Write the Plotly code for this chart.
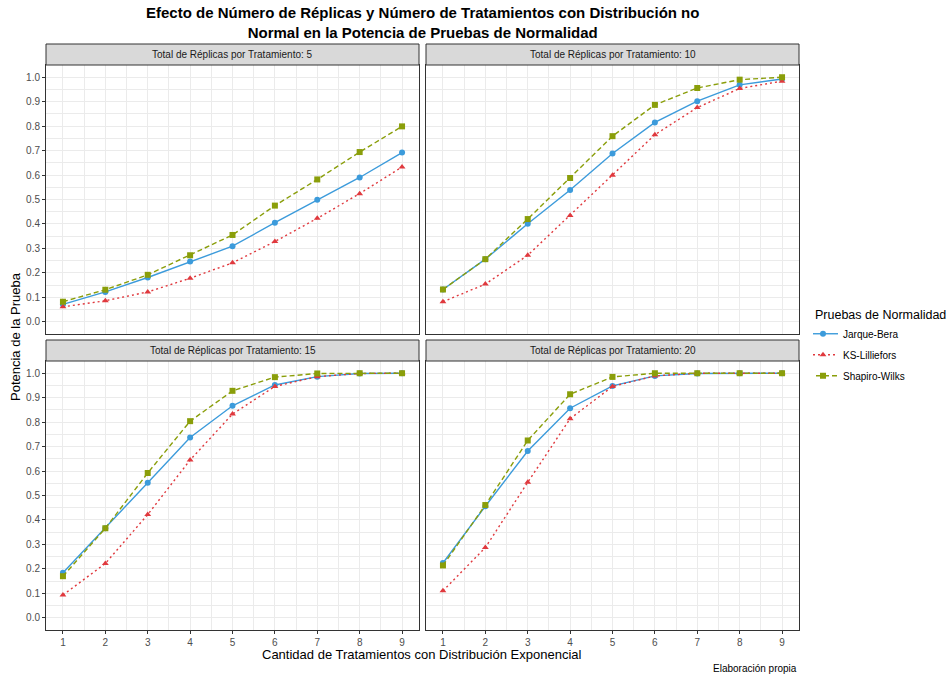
import plotly.graph_objects as go

tratamientos = [1, 2, 3, 4, 5, 6, 7, 8, 9]
replicas = [5, 10, 15, 20]
pruebas = ["Jarque-Bera", "KS-Lilliefors", "Shapiro-Wilks"]

jb_5 = [0.071, 0.122, 0.181, 0.246, 0.309, 0.405, 0.499, 0.590, 0.692]
ks_5 = [0.061, 0.086, 0.122, 0.178, 0.241, 0.328, 0.423, 0.524, 0.633]
sw_5 = [0.082, 0.131, 0.192, 0.272, 0.355, 0.475, 0.582, 0.694, 0.799]

jb_10 = [0.132, 0.256, 0.401, 0.539, 0.688, 0.815, 0.902, 0.969, 0.993]
ks_10 = [0.082, 0.154, 0.272, 0.435, 0.599, 0.765, 0.876, 0.954, 0.984]
sw_10 = [0.132, 0.256, 0.420, 0.588, 0.759, 0.887, 0.956, 0.990, 1.000]

jb_15 = [0.184, 0.366, 0.552, 0.737, 0.867, 0.952, 0.986, 0.999, 1.000]
ks_15 = [0.093, 0.222, 0.422, 0.645, 0.833, 0.946, 0.986, 0.999, 1.000]
sw_15 = [0.170, 0.366, 0.592, 0.804, 0.928, 0.984, 0.999, 1.000, 1.000]

jb_20 = [0.224, 0.456, 0.682, 0.857, 0.948, 0.989, 0.999, 1.000, 1.000]
ks_20 = [0.110, 0.287, 0.554, 0.814, 0.946, 0.989, 1.000, 1.000, 1.000]
sw_20 = [0.214, 0.461, 0.725, 0.914, 0.985, 1.000, 1.000, 1.000, 1.000]

datos = {
    5: [jb_5, ks_5, sw_5],
    10: [jb_10, ks_10, sw_10],
    15: [jb_15, ks_15, sw_15],
    20: [jb_20, ks_20, sw_20],
}

colores = ["#3C9BDB", "#E0393E", "#8A9E0A"]
dashes = ["solid", "2px,3px", "5px,3px"]
simbolos = ["circle", "triangle-up", "square"]

W, H = 952, 675
def px_x(p):
    return p / W
def px_y(p):
    return 1 - p / H

xdom = [[px_x(46), px_x(419)], [px_x(426), px_x(799)]]
ydom = [[px_y(334), px_y(65)], [px_y(630), px_y(361)]]
strip = [[44, 65], [340, 361]]

fig = go.Figure()
layout_axes = {}
shapes = []
annotations = []

grid_col = "#EBEBEB"
FONT = "Liberation Sans, Arial, sans-serif"
tick_font = dict(family=FONT, size=10, color="#4D4D4D")

for i, rep in enumerate(replicas):
    row, col = divmod(i, 2)
    n = i + 1
    xa = "x" if n == 1 else f"x{n}"
    ya = "y" if n == 1 else f"y{n}"
    for j, nombre in enumerate(pruebas):
        fig.add_trace(go.Scatter(
            x=tratamientos, y=datos[rep][j], mode="lines+markers",
            name=nombre, legendgroup=nombre, showlegend=(i == 0),
            line=dict(color=colores[j], dash=dashes[j], width=1.4),
            marker=dict(symbol=simbolos[j], size=6, color=colores[j]),
            xaxis=xa, yaxis=ya,
        ))
    xkey = "xaxis" if n == 1 else f"xaxis{n}"
    ykey = "yaxis" if n == 1 else f"yaxis{n}"
    layout_axes[xkey] = dict(
        domain=xdom[col], anchor=ya, range=[0.6, 9.4],
        tickmode="array", tickvals=tratamientos,
        ticktext=[str(t) for t in tratamientos],
        showticklabels=(row == 1), ticks="outside" if row == 1 else "",
        ticklen=3, tickcolor="#333333", tickfont=tick_font,
        showgrid=True, gridcolor=grid_col, gridwidth=1,
        minor=dict(tickvals=[t + 0.5 for t in tratamientos[:-1]] + [0.5],
                   showgrid=True, gridcolor=grid_col, gridwidth=0.6),
        showline=True, linecolor="#333333", linewidth=1, mirror=True,
        zeroline=False, fixedrange=True,
    )
    layout_axes[ykey] = dict(
        domain=ydom[row], anchor=xa, range=[-0.05, 1.05],
        tickmode="array", tickvals=[k / 10 for k in range(11)],
        ticktext=[f"{k/10:.1f}" for k in range(11)],
        showticklabels=(col == 0), ticks="outside" if col == 0 else "",
        ticklen=3, tickcolor="#333333", tickfont=tick_font,
        showgrid=True, gridcolor=grid_col, gridwidth=1,
        minor=dict(tickvals=[k / 10 + 0.05 for k in range(-1, 11)],
                   showgrid=True, gridcolor=grid_col, gridwidth=0.6),
        showline=True, linecolor="#333333", linewidth=1, mirror=True,
        zeroline=False, fixedrange=True,
    )
    sy0, sy1 = strip[row]
    shapes.append(dict(type="rect", xref="paper", yref="paper",
                       x0=xdom[col][0], x1=xdom[col][1],
                       y0=px_y(sy1), y1=px_y(sy0),
                       fillcolor="#D9D9D9", line=dict(color="#333333", width=1)))
    annotations.append(dict(
        x=(xdom[col][0] + xdom[col][1]) / 2, y=px_y((sy0 + sy1) / 2),
        xref="paper", yref="paper", showarrow=False,
        text=f"Total de Réplicas por Tratamiento: {rep}",
        font=dict(family=FONT, size=10, color="#1A1A1A"),
        xanchor="center", yanchor="middle"))

annotations += [
    dict(x=px_x(422), y=px_y(23), xref="paper", yref="paper", showarrow=False,
         text="<b>Efecto de Número de Réplicas y Número de Tratamientos con Distribución no<br>Normal en la Potencia de Pruebas de Normalidad</b>",
         font=dict(family=FONT, size=15, color="#000000"),
         xanchor="center", yanchor="middle"),
    dict(x=px_x(422), y=px_y(654), xref="paper", yref="paper", showarrow=False,
         text="Cantidad de Tratamientos con Distribución Exponencial",
         font=dict(family=FONT, size=13, color="#000000"),
         xanchor="center", yanchor="middle"),
    dict(x=px_x(15), y=px_y(337), xref="paper", yref="paper", showarrow=False,
         text="Potencia de la Prueba", textangle=-90,
         font=dict(family=FONT, size=13, color="#000000"),
         xanchor="center", yanchor="middle"),
    dict(x=px_x(799), y=px_y(668), xref="paper", yref="paper", showarrow=False,
         text="Elaboración propia",
         font=dict(family=FONT, size=10, color="#000000"),
         xanchor="right", yanchor="middle"),
]

fig.update_layout(
    width=W, height=H,
    margin=dict(l=0, r=0, t=0, b=0, autoexpand=False),
    paper_bgcolor="white", plot_bgcolor="white",
    shapes=shapes, annotations=annotations,
    showlegend=True,
    legend=dict(
        title=dict(text="Pruebas de Normalidad",
                   font=dict(family=FONT, size=12.5, color="#000000")),
        font=dict(family=FONT, size=10, color="#000000"),
        x=px_x(813), y=px_y(303), xanchor="left", yanchor="top",
        bgcolor="rgba(0,0,0,0)", itemwidth=30, tracegroupgap=2,
        indentation=-10,
    ),
    **layout_axes,
)

fig.write_html("out.html", config={"displayModeBar": False},
               post_script="document.body.style.margin='0';document.body.style.overflow='hidden';")
